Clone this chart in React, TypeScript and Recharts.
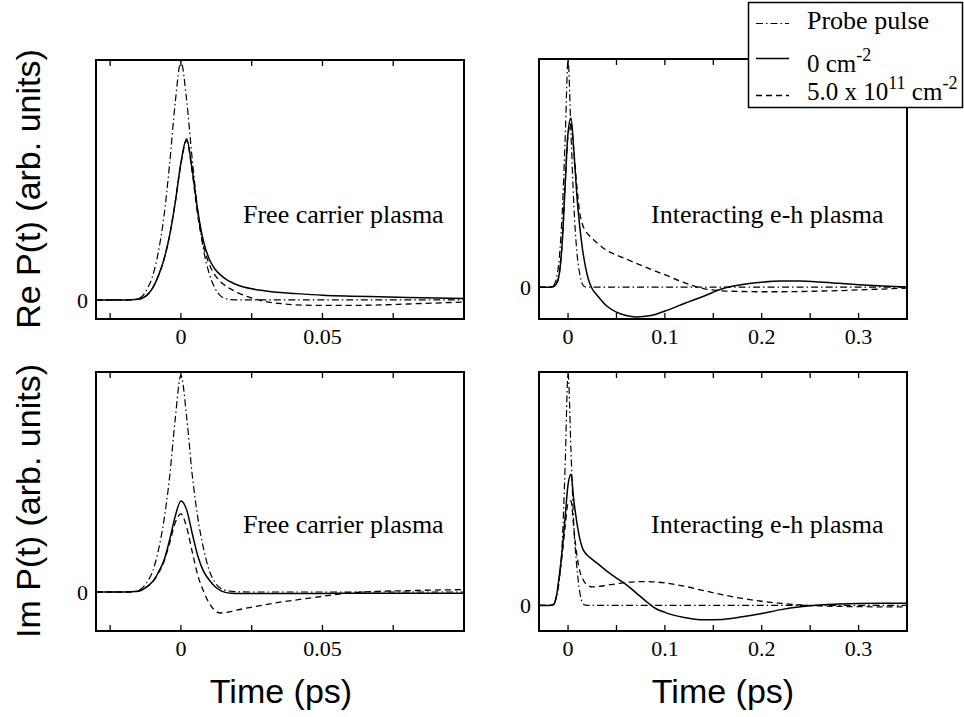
import React from 'react';
import { LineChart, Line, XAxis, YAxis, ReferenceArea } from 'recharts';

const PAGE_W = 964;
const PAGE_H = 717;
const SERIF = '"Liberation Serif", "Times New Roman", serif';
const SANS = '"Liberation Sans", Arial, sans-serif';

const DASH_DOT = '7 3 1.5 3';
const DASHED = '6 4';

// time grids (ps)
const timeL = [-0.03, -0.02, -0.016, -0.014, -0.012, -0.01, -0.008, -0.006, -0.004, -0.002, 0, 0.002, 0.004, 0.006, 0.008, 0.01, 0.012, 0.014, 0.016, 0.018, 0.02, 0.025, 0.03, 0.035, 0.04, 0.05, 0.06, 0.07, 0.08, 0.09, 0.1];
const timeR = [-0.03, -0.02, -0.015, -0.012, -0.009, -0.006, -0.003, 0, 0.003, 0.006, 0.009, 0.012, 0.015, 0.018, 0.021, 0.025, 0.03, 0.04, 0.05, 0.06, 0.07, 0.08, 0.09, 0.1, 0.12, 0.14, 0.16, 0.18, 0.2, 0.22, 0.24, 0.26, 0.28, 0.3, 0.325, 0.35];

// Re P(t), free carrier plasma
const reProbeL = [0, 0, 0.003, 0.012, 0.045, 0.1, 0.2, 0.35, 0.57, 0.83, 1.0, 0.84, 0.59, 0.37, 0.21, 0.11, 0.05, 0.017, 0.005, 0.001, 0, 0, 0, 0, 0, 0, 0, 0, 0, 0, 0];
const reFreeZero = [0, 0, 0.002, 0.006, 0.02, 0.05, 0.1, 0.17, 0.27, 0.41, 0.575, 0.676, 0.545, 0.37, 0.245, 0.172, 0.13, 0.105, 0.086, 0.073, 0.063, 0.047, 0.038, 0.031, 0.027, 0.02, 0.016, 0.013, 0.01, 0.008, 0.006];
const reFreeDense = [0, 0, 0.002, 0.006, 0.02, 0.05, 0.1, 0.17, 0.27, 0.41, 0.57, 0.668, 0.535, 0.35, 0.225, 0.15, 0.105, 0.077, 0.057, 0.043, 0.031, 0.008, -0.007, -0.015, -0.02, -0.023, -0.023, -0.021, -0.017, -0.013, -0.009];

// Im P(t), free carrier plasma
const imProbeL = [0, 0, 0.003, 0.015, 0.045, 0.095, 0.19, 0.33, 0.53, 0.8, 1.0, 0.81, 0.54, 0.34, 0.2, 0.1, 0.045, 0.017, 0.007, 0.003, 0.001, 0, 0, 0, 0, 0, 0, 0, 0, 0, 0];
const imFreeZero = [0, 0, 0.002, 0.008, 0.025, 0.048, 0.09, 0.145, 0.24, 0.35, 0.42, 0.38, 0.27, 0.165, 0.095, 0.055, 0.025, 0.006, -0.003, -0.006, -0.007, -0.007, -0.007, -0.007, -0.007, -0.007, -0.006, -0.006, -0.006, -0.006, -0.006];
const imFreeDense = [0, 0, 0.002, 0.008, 0.024, 0.046, 0.085, 0.14, 0.225, 0.32, 0.36, 0.3, 0.185, 0.075, 0.003, -0.052, -0.085, -0.097, -0.095, -0.089, -0.083, -0.07, -0.058, -0.047, -0.038, -0.02, -0.004, 0.003, 0.006, 0.009, 0.011];

// Re P(t), interacting e-h plasma
const reProbeR = [0, 0, 0.008, 0.04, 0.13, 0.33, 0.65, 1.0, 0.68, 0.36, 0.16, 0.06, 0.012, 0.001, 0, 0, 0, 0, 0, 0, 0, 0, 0, 0, 0, 0, 0, 0, 0, 0, 0, 0, 0, 0, 0, 0];
const reIntZero = [0, 0, 0.003, 0.015, 0.06, 0.2, 0.45, 0.68, 0.745, 0.6, 0.41, 0.27, 0.165, 0.09, 0.035, -0.008, -0.035, -0.083, -0.11, -0.125, -0.131, -0.128, -0.12, -0.105, -0.072, -0.04, -0.006, 0.012, 0.022, 0.027, 0.027, 0.023, 0.017, 0.011, 0.005, 0.001];
const reIntDense = [0, 0, 0.003, 0.015, 0.06, 0.2, 0.45, 0.67, 0.72, 0.6, 0.45, 0.33, 0.275, 0.248, 0.232, 0.215, 0.195, 0.162, 0.142, 0.124, 0.106, 0.089, 0.071, 0.055, 0.02, -0.006, -0.016, -0.019, -0.02, -0.02, -0.019, -0.017, -0.015, -0.012, -0.008, -0.004];

// Im P(t), interacting e-h plasma
const imProbeR = [0, 0, 0.005, 0.04, 0.11, 0.27, 0.6, 1.0, 0.67, 0.34, 0.17, 0.06, 0.01, 0.001, 0, 0, 0, 0, 0, 0, 0, 0, 0, 0, 0, 0, 0, 0, 0, 0, 0, 0, 0, 0, 0, 0];
const imIntZero = [0, 0, 0.004, 0.04, 0.13, 0.24, 0.38, 0.52, 0.565, 0.45, 0.36, 0.29, 0.245, 0.225, 0.212, 0.198, 0.182, 0.148, 0.118, 0.09, 0.055, 0.02, -0.012, -0.03, -0.052, -0.062, -0.06, -0.049, -0.035, -0.018, -0.006, 0.002, 0.006, 0.008, 0.009, 0.009];
const imIntDense = [0, 0, 0.004, 0.04, 0.12, 0.22, 0.34, 0.44, 0.45, 0.33, 0.22, 0.15, 0.115, 0.095, 0.085, 0.08, 0.081, 0.087, 0.093, 0.099, 0.102, 0.103, 0.101, 0.097, 0.083, 0.064, 0.046, 0.03, 0.018, 0.009, 0.002, -0.002, -0.004, -0.005, -0.006, -0.006];

const leftTicks = [-0.025, 0, 0.025, 0.05, 0.075];
const leftLabels = [0, 0.05];
const rightTicks = [0, 0.05, 0.1, 0.15, 0.2, 0.25, 0.3];
const rightLabels = [0, 0.1, 0.2, 0.3];

const rows = (time: number[], probe: number[], zero: number[], dense: number[]) =>
  time.map((t, i) => ({ t, probe: probe[i], zero: zero[i], dense: dense[i] }));

type Box = { left: number; top: number; right: number; bottom: number };

function TickMark(props: any) {
  const { x, y, payload, labels, top } = props;
  const v = payload.value;
  return (
    <g>
      <line x1={x} x2={x} y1={y} y2={y - 6} stroke="#000" strokeWidth={1.3} />
      <line x1={x} x2={x} y1={top} y2={top + 6} stroke="#000" strokeWidth={1.3} />
      {labels.includes(v) && (
        <text x={x} y={y + 25} textAnchor="middle" fontFamily={SERIF} fontSize={22} fill="#000">
          {String(v)}
        </text>
      )}
    </g>
  );
}

function Panel(props: {
  box: Box;
  data: any[];
  xDomain: [number, number];
  yDomain: [number, number];
  ticks: number[];
  labels: number[];
}) {
  const { box, data, xDomain, yDomain, ticks, labels } = props;
  const yAxisW = 60;
  const xAxisH = 40;
  return (
    <div style={{ position: 'absolute', left: 0, top: 0 }}>
      <LineChart
        width={PAGE_W}
        height={PAGE_H}
        data={data}
        margin={{ top: box.top, left: box.left - yAxisW, right: PAGE_W - box.right, bottom: PAGE_H - box.bottom - xAxisH }}
      >
        <XAxis
          dataKey="t"
          type="number"
          domain={xDomain}
          allowDataOverflow
          ticks={ticks}
          interval={0}
          height={xAxisH}
          axisLine={false}
          tickLine={false}
          tickSize={0}
          tickMargin={0}
          tick={<TickMark labels={labels} top={box.top} />}
        />
        <YAxis
          type="number"
          domain={yDomain}
          allowDataOverflow
          ticks={[0]}
          width={yAxisW}
          axisLine={false}
          tickLine={false}
          tick={{ fontFamily: SERIF, fontSize: 22, fill: '#000' }}
        />
        <ReferenceArea
          x1={xDomain[0]}
          x2={xDomain[1]}
          y1={yDomain[0]}
          y2={yDomain[1]}
          fill="none"
          stroke="#000"
          strokeWidth={2}
          ifOverflow="visible"
        />
        <Line dataKey="probe" type="monotone" stroke="#000" strokeWidth={1.2} strokeDasharray={DASH_DOT} dot={false} activeDot={false} isAnimationActive={false} />
        <Line dataKey="zero" type="monotone" stroke="#000" strokeWidth={1.5} dot={false} activeDot={false} isAnimationActive={false} />
        <Line dataKey="dense" type="monotone" stroke="#000" strokeWidth={1.3} strokeDasharray={DASHED} dot={false} activeDot={false} isAnimationActive={false} />
      </LineChart>
    </div>
  );
}

export default function App() {
  const serifText = { fontFamily: SERIF, fill: '#000' };
  const sansText = { fontFamily: SANS, fill: '#000', fontSize: 34 };
  return (
    <div style={{ position: 'absolute', left: 0, top: 0, width: PAGE_W, height: PAGE_H, background: '#fff' }}>
      <Panel box={{ left: 96, top: 60, right: 464, bottom: 319 }} data={rows(timeL, reProbeL, reFreeZero, reFreeDense)}
        xDomain={[-0.03, 0.1]} yDomain={[-0.08, 1.007]} ticks={leftTicks} labels={leftLabels} />
      <Panel box={{ left: 539, top: 59, right: 907, bottom: 319 }} data={rows(timeR, reProbeR, reIntZero, reIntDense)}
        xDomain={[-0.03, 0.35]} yDomain={[-0.14, 1.005]} ticks={rightTicks} labels={rightLabels} />
      <Panel box={{ left: 96, top: 372, right: 464, bottom: 631 }} data={rows(timeL, imProbeL, imFreeZero, imFreeDense)}
        xDomain={[-0.03, 0.1]} yDomain={[-0.18, 1.015]} ticks={leftTicks} labels={leftLabels} />
      <Panel box={{ left: 539, top: 372, right: 907, bottom: 631 }} data={rows(timeR, imProbeR, imIntZero, imIntDense)}
        xDomain={[-0.03, 0.35]} yDomain={[-0.11, 1.005]} ticks={rightTicks} labels={rightLabels} />

      <svg width={PAGE_W} height={PAGE_H} style={{ position: 'absolute', left: 0, top: 0 }}>
        {/* axis titles */}
        <text x={40} y={189} transform="rotate(-90 40 189)" textAnchor="middle" {...sansText}>Re P(t) (arb. units)</text>
        <text x={40} y={501} transform="rotate(-90 40 501)" textAnchor="middle" {...sansText}>Im P(t) (arb. units)</text>
        <text x={281} y={703} textAnchor="middle" {...sansText}>Time (ps)</text>
        <text x={723} y={703} textAnchor="middle" {...sansText}>Time (ps)</text>

        {/* panel notes */}
        <text x={243} y={223} fontSize={26} {...serifText}>Free carrier plasma</text>
        <text x={243} y={533} fontSize={26} {...serifText}>Free carrier plasma</text>
        <text x={651} y={223} fontSize={26} {...serifText}>Interacting e-h plasma</text>
        <text x={651} y={533} fontSize={26} {...serifText}>Interacting e-h plasma</text>

        {/* legend */}
        <rect x={748.5} y={2.5} width={214} height={105} fill="#fff" stroke="#000" strokeWidth={1.5} />
        <line x1={756} x2={789} y1={23.5} y2={23.5} stroke="#000" strokeWidth={1.2} strokeDasharray={DASH_DOT} />
        <line x1={756} x2={789} y1={58.5} y2={58.5} stroke="#000" strokeWidth={1.5} />
        <line x1={756} x2={789} y1={95.5} y2={95.5} stroke="#000" strokeWidth={1.3} strokeDasharray={DASHED} />
        <text x={807} y={28.5} fontSize={26} {...serifText}>Probe pulse</text>
        <text x={807} y={71.7} fontSize={25} {...serifText} style={{ whiteSpace: 'pre' }}>
          0 cm<tspan dy={-11} fontSize={18}>-2</tspan>
        </text>
        <text x={807} y={100} fontSize={25} {...serifText} style={{ whiteSpace: 'pre' }}>
          5.0 x 10<tspan dy={-11} fontSize={18}>11</tspan>
          <tspan dy={11}> cm</tspan>
          <tspan dy={-11} fontSize={18}>-2</tspan>
        </text>
      </svg>
    </div>
  );
}
